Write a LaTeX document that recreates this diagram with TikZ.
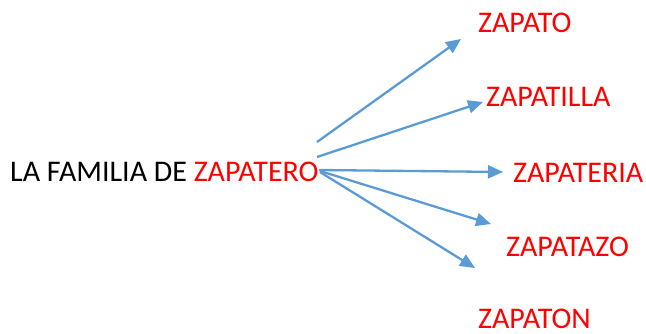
\documentclass[tikz,border=0pt]{standalone}
\usepackage{fontspec}
\setmainfont{Carlito}
\usetikzlibrary{arrows.meta,calc,positioning}
\definecolor{azul}{HTML}{5B9BD5}

\begin{document}
\begin{tikzpicture}[x=1pt,y=1pt,
	palabra/.style={anchor=west,inner sep=0pt,text=red,font=\fontsize{30}{36}\selectfont},
	flecha/.style={azul,line width=2.3pt,-{Triangle[length=15pt,width=13pt]}}]
\useasboundingbox (0,0) rectangle (646,334);
\node[palabra,text=black] (familia) at (10,162) {LA FAMILIA DE \textcolor{red}{ZAPATERO}};
\node[palabra] (zapato) at (478,311.5) {ZAPATO};
\node[palabra] (zapatilla) at (486,237) {ZAPATILLA};
\node[palabra] (zapateria) at (513,161.5) {ZAPATERIA};
\node[palabra] (zapatazo) at (506,87) {ZAPATAZO};
\node[palabra] (zapaton) at (478,15) {ZAPATON};
%% puntos de salida y llegada de las flechas
\coordinate (s1) at (317,192);
\coordinate (s2) at (317,177);
\coordinate (s3) at (319,164);
\coordinate (s4) at (320,163);
\coordinate (s5) at (320,162);
\coordinate (f1) at (461,295);
\coordinate (f2) at (483,232);
\coordinate (f3) at (503,162);
\coordinate (f4) at (491,110);
\coordinate (f5) at (475,66);
\foreach \i in {1,...,5}{
	\draw[flecha] (s\i) -- (f\i);
}
\end{tikzpicture}
\end{document}
